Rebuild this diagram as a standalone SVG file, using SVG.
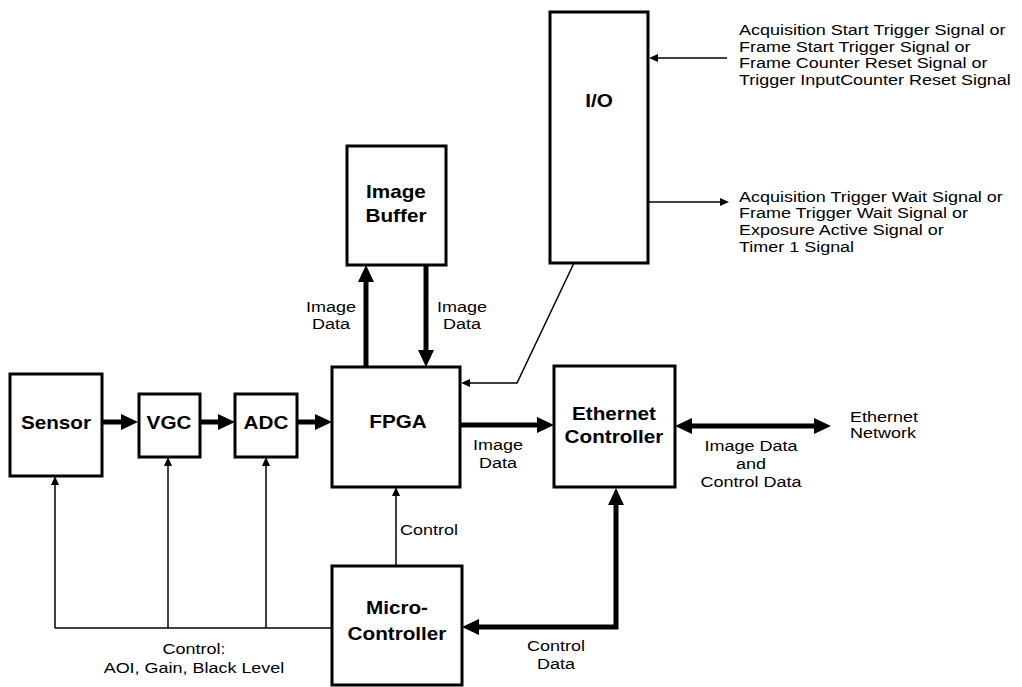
<svg xmlns="http://www.w3.org/2000/svg" width="1022" height="687" viewBox="0 0 1022 687">
<style>
  .box { fill: #fff; stroke: #000; stroke-width: 3; }
  .thick { fill: none; stroke: #000; stroke-width: 5; stroke-linejoin: miter; }
  .thin { fill: none; stroke: #000; stroke-width: 1.5; }
  .b { font-family: "Liberation Sans", Arial, sans-serif; font-weight: bold; font-size: 18px; text-anchor: middle; fill: #000; }
  .r { font-family: "Liberation Sans", Arial, sans-serif; font-size: 15.5px; fill: #000; }
  .c { text-anchor: middle; }
</style>
<defs>
  <marker id="ah" markerUnits="userSpaceOnUse" markerWidth="17" markerHeight="16" refX="1" refY="8" orient="auto-start-reverse">
    <path d="M0,0 L17,8 L0,16 z" fill="#000"/>
  </marker>
  <marker id="as" markerUnits="userSpaceOnUse" markerWidth="9" markerHeight="8" refX="1" refY="4" orient="auto-start-reverse">
    <path d="M0,0 L9,4 L0,8 z" fill="#000"/>
  </marker>
</defs>
<rect width="1022" height="687" fill="#fff"/>

<g id="connectors">
  <path class="thick" d="M102,422 H122" marker-end="url(#ah)"/>
  <path class="thick" d="M200,422 H219" marker-end="url(#ah)"/>
  <path class="thick" d="M297,422 H316" marker-end="url(#ah)"/>
  <path class="thick" d="M460,425 H538" marker-end="url(#ah)"/>
  <path class="thick" d="M366,367 V281" marker-end="url(#ah)"/>
  <path class="thick" d="M426,265 V351" marker-end="url(#ah)"/>
  <path class="thick" d="M691,426 H815" marker-start="url(#ah)" marker-end="url(#ah)"/>
  <path class="thick" d="M478,627 H616 V504" marker-start="url(#ah)" marker-end="url(#ah)"/>
  <path class="thin" d="M55,628 H332"/>
  <path class="thin" d="M55,628 V484" marker-end="url(#as)"/>
  <path class="thin" d="M168,628 V465" marker-end="url(#as)"/>
  <path class="thin" d="M266,628 V465" marker-end="url(#as)"/>
  <path class="thin" d="M396,566 V495" marker-end="url(#as)"/>
  <path class="thin" d="M574,263 L517,383 H469" marker-end="url(#as)"/>
  <path class="thin" d="M727,58 H657" marker-end="url(#as)"/>
  <path class="thin" d="M648,202 H721" marker-end="url(#as)"/>

  <text class="r c" transform="scale(1.16,1)" x="285.34" y="312">Image</text>
  <text class="r c" transform="scale(1.16,1)" x="285.34" y="329">Data</text>
  <text class="r c" transform="scale(1.16,1)" x="398.28" y="312">Image</text>
  <text class="r c" transform="scale(1.16,1)" x="398.28" y="329">Data</text>
  <text class="r c" transform="scale(1.16,1)" x="429.31" y="450">Image</text>
  <text class="r c" transform="scale(1.16,1)" x="429.31" y="468">Data</text>
  <text class="r c" transform="scale(1.16,1)" x="647.41" y="451">Image Data</text>
  <text class="r c" transform="scale(1.16,1)" x="647.41" y="469">and</text>
  <text class="r c" transform="scale(1.16,1)" x="647.41" y="487">Control Data</text>
  <text class="r" transform="scale(1.16,1)" x="732.76" y="422">Ethernet</text>
  <text class="r" transform="scale(1.16,1)" x="732.76" y="438">Network</text>
  <text class="r" transform="scale(1.16,1)" x="344.83" y="535">Control</text>
  <text class="r c" transform="scale(1.16,1)" x="167.24" y="654">Control:</text>
  <text class="r c" transform="scale(1.16,1)" x="167.24" y="673">AOI, Gain, Black Level</text>
  <text class="r c" transform="scale(1.16,1)" x="479.31" y="651">Control</text>
  <text class="r c" transform="scale(1.16,1)" x="479.31" y="669">Data</text>
  <text class="r" transform="scale(1.16,1)" x="637.07" y="35">Acquisition Start Trigger Signal or</text>
  <text class="r" transform="scale(1.16,1)" x="637.07" y="52">Frame Start Trigger Signal or</text>
  <text class="r" transform="scale(1.16,1)" x="637.07" y="68">Frame Counter Reset Signal or</text>
  <text class="r" transform="scale(1.16,1)" x="637.07" y="85">Trigger InputCounter Reset Signal</text>
  <text class="r" transform="scale(1.16,1)" x="637.07" y="202">Acquisition Trigger Wait Signal or</text>
  <text class="r" transform="scale(1.16,1)" x="637.07" y="218">Frame Trigger Wait Signal or</text>
  <text class="r" transform="scale(1.16,1)" x="637.07" y="235">Exposure Active Signal or</text>
  <text class="r" transform="scale(1.16,1)" x="637.07" y="252">Timer 1 Signal</text>
</g>

<g id="sensor">
  <rect class="box" x="10" y="374" width="92" height="102"/>
  <text class="b" transform="scale(1.15,1)" x="48.70" y="429">Sensor</text>
</g>
<g id="vgc">
  <rect class="box" x="139" y="394" width="61" height="63"/>
  <text class="b" transform="scale(1.15,1)" x="146.96" y="429">VGC</text>
</g>
<g id="adc">
  <rect class="box" x="235" y="394" width="62" height="63"/>
  <text class="b" transform="scale(1.15,1)" x="231.30" y="429">ADC</text>
</g>
<g id="fpga">
  <rect class="box" x="332" y="367" width="128" height="120"/>
  <text class="b" transform="scale(1.15,1)" x="346.09" y="428">FPGA</text>
</g>
<g id="image-buffer">
  <rect class="box" x="347" y="146" width="99" height="119"/>
  <text class="b" transform="scale(1.15,1)" x="344.35" y="198">Image</text>
  <text class="b" transform="scale(1.15,1)" x="344.35" y="222">Buffer</text>
</g>
<g id="io">
  <rect class="box" x="550" y="12" width="98" height="251"/>
  <text class="b" transform="scale(1.15,1)" x="520.87" y="107">I/O</text>
</g>
<g id="ethernet-controller">
  <rect class="box" x="554" y="366" width="121" height="121"/>
  <text class="b" transform="scale(1.15,1)" x="533.91" y="420">Ethernet</text>
  <text class="b" transform="scale(1.15,1)" x="533.91" y="443">Controller</text>
</g>
<g id="micro-controller">
  <rect class="box" x="332" y="566" width="130" height="119"/>
  <text class="b" transform="scale(1.15,1)" x="345.22" y="614">Micro-</text>
  <text class="b" transform="scale(1.15,1)" x="345.22" y="640">Controller</text>
</g>
</svg>
